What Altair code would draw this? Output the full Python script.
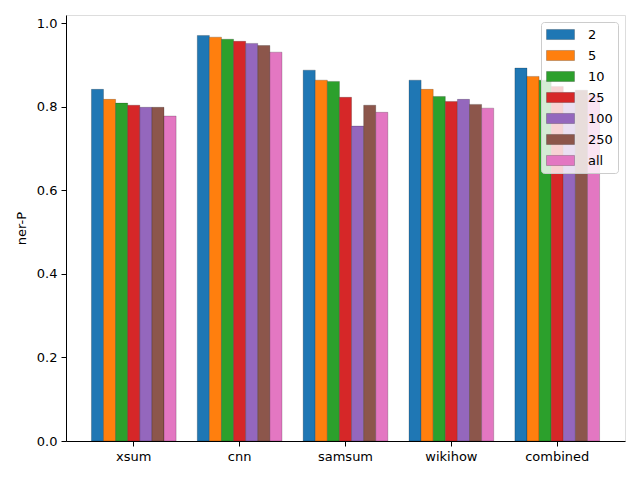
import altair as alt
import pandas as pd

datasets = ["xsum", "cnn", "samsum", "wikihow", "combined"]
series = ["2", "5", "10", "25", "100", "250", "all"]
values = {
    "2":   [0.842, 0.971, 0.888, 0.864, 0.893],
    "5":   [0.818, 0.967, 0.864, 0.842, 0.873],
    "10":  [0.809, 0.962, 0.861, 0.825, 0.864],
    "25":  [0.804, 0.957, 0.823, 0.813, 0.849],
    "100": [0.799, 0.952, 0.754, 0.818, 0.835],
    "250": [0.799, 0.947, 0.804, 0.806, 0.840],
    "all": [0.778, 0.931, 0.787, 0.797, 0.828],
}
colors = ["#1f77b4", "#ff7f0e", "#2ca02c", "#d62728", "#9467bd", "#8c564b", "#e377c2"]

rows = []
for s in series:
    for d, v in zip(datasets, values[s]):
        rows.append({"dataset": d, "series": s, "value": v})
df = pd.DataFrame(rows)

font = "DejaVu Sans"

chart = alt.Chart(df).mark_bar(stroke="#000000", strokeOpacity=0.25, strokeWidth=0.8).encode(
    x=alt.X("dataset:N", sort=datasets, title=None,
            scale=alt.Scale(paddingInner=0.2, paddingOuter=0.24),
            axis=alt.Axis(labelAngle=0, labelFontSize=13, labelFont=font, labelColor="black",
                          tickColor="black", domainColor="black", tickSize=5, labelPadding=4,
                          grid=False)),
    xOffset=alt.XOffset("series:N", sort=series, scale=alt.Scale(paddingInner=0, paddingOuter=0)),
    y=alt.Y("value:Q", title="ner-P",
            scale=alt.Scale(domain=[0, 1.02], nice=False, zero=True),
            axis=alt.Axis(values=[0, 0.2, 0.4, 0.6, 0.8, 1.0], format=".1f",
                          labelFontSize=13, labelFont=font, labelColor="black",
                          tickColor="black", domainColor="black", tickSize=5, labelPadding=4,
                          titleFont=font, titleFontSize=13, titleFontWeight="normal",
                          titleColor="black", titlePadding=8, grid=False)),
    color=alt.Color("series:N", sort=series,
                    scale=alt.Scale(domain=series, range=colors),
                    legend=alt.Legend(title=None, orient="top-right", offset=7,
                                      symbolType="M-2,-0.72h4v1.44h-4z", symbolSize=196,
                                      symbolOffset=7,
                                      symbolStrokeColor="#00000044", symbolStrokeWidth=0.8,
                                      labelFont=font, labelFontSize=13, labelColor="black",
                                      labelOffset=20, rowPadding=6,
                                      fillColor="rgba(255,255,255,0.8)", strokeColor="#cccccc",
                                      cornerRadius=3, padding=5)),
).properties(
    width=559, height=426,
    autosize=alt.AutoSizeParams(type="none"),
    padding={"left": 58, "top": 7, "right": 7, "bottom": 31},
).configure_view(stroke="black", strokeWidth=1).configure(background="white")

chart.save("out.html", embed_options={"renderer": "svg", "actions": False})
